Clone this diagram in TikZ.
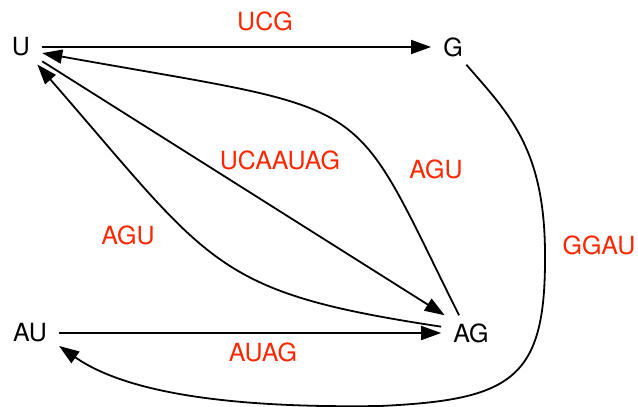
\documentclass[tikz,border=0pt]{standalone}
\usepackage{fontspec}
\setmainfont{TeX Gyre Heros}
\usetikzlibrary{arrows.meta}
\definecolor{lblred}{RGB}{255,38,0}
\tikzset{
  state/.style={inner xsep=12pt, inner ysep=8pt, font=\fontsize{25}{28}\selectfont, text=black},
  lbl/.style={inner sep=0pt, font=\fontsize{25}{28}\selectfont, text=lblred},
  arr/.style={line width=1.8pt, -{Triangle[length=20pt,width=14pt]}},
  plain/.style={line width=1.8pt}
}
\begin{document}
\begin{tikzpicture}[x=1pt,y=-1pt]
\useasboundingbox (0,0) rectangle (638,407);
\node[state] (u)  at (21,47)  {U};
\node[state] (g)  at (453,47) {G};
\node[state] (au) at (30,333) {AU};
\node[state] (ag) at (471,333) {AG};

\draw[arr] (u.east) -- (g.west);
\draw[arr] (au.east) -- (ag.west);
\draw[arr] (u.-34) -- (ag.146);
\draw[arr] (ag.124) .. controls (346,89) and (383,114) .. (u.-16);
\draw[arr] (ag.168) .. controls (212,292) and (212,265) .. (u.-47);
\draw[arr] (g.-53) .. controls (510,115) and (546,150) .. (545,260)
  .. controls (545,380) and (510,400) .. (380,406)
  .. controls (250,408) and (132,397) .. (au.-24);

\node[lbl] (l1) at (265,21) {UCG};
\node[lbl] (l2) at (280,160) {UCAAUAG};
\node[lbl] (l3) at (436,169) {AGU};
\node[lbl] (l4) at (128,235) {AGU};
\node[lbl] (l5) at (599,245) {GGAU};
\node[lbl] (l6) at (263,352) {AUAG};
\end{tikzpicture}
\end{document}
